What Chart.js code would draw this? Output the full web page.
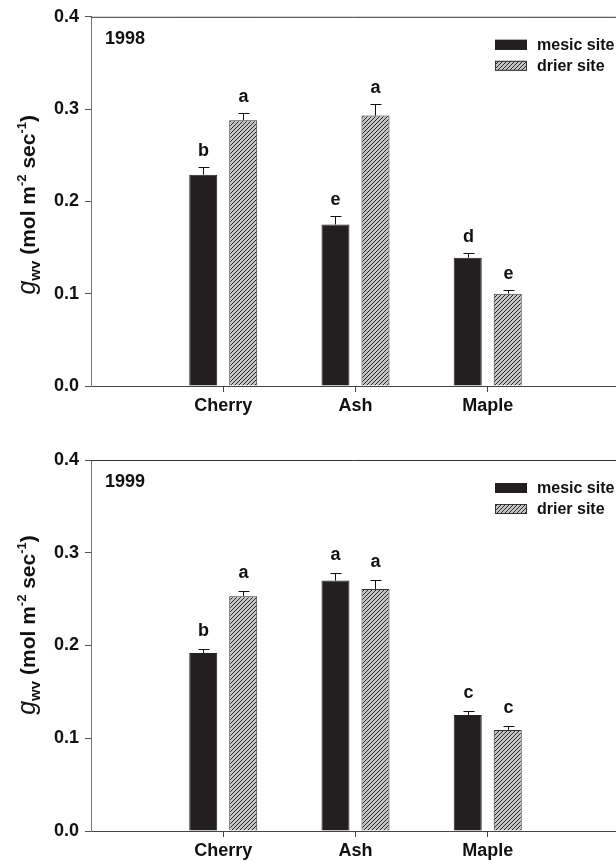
<!DOCTYPE html>
<html>
<head>
<meta charset="utf-8">
<script src="https://cdn.jsdelivr.net/npm/chart.js@4.4.1/dist/chart.umd.min.js"></script>
<style>
  html, body { margin: 0; padding: 0; background: #fff; overflow: hidden; }
  canvas { display: block; }
</style>
</head>
<body>
<canvas id="chart1998" width="616" height="430"></canvas>
<canvas id="chart1999" width="616" height="433"></canvas>
<script>
const FONT = "'Liberation Sans', Arial, sans-serif";

const species = ["Cherry", "Ash", "Maple"];
const speciesPos = [1, 2, 3];
const yTicks = [0, 0.1, 0.2, 0.3, 0.4];
const seriesNames = ["mesic site", "drier site"];

// 1998 season
const mesic1998 = [0.229, 0.175, 0.139];
const mesicErr1998 = [0.008, 0.009, 0.005];
const mesicLetters1998 = ["b", "e", "d"];
const drier1998 = [0.288, 0.293, 0.100];
const drierErr1998 = [0.008, 0.012, 0.004];
const drierLetters1998 = ["a", "a", "e"];

// 1999 season
const mesic1999 = [0.192, 0.270, 0.125];
const mesicErr1999 = [0.004, 0.008, 0.004];
const mesicLetters1999 = ["b", "a", "c"];
const drier1999 = [0.253, 0.261, 0.109];
const drierErr1999 = [0.006, 0.010, 0.004];
const drierLetters1999 = ["a", "a", "c"];

const MESIC_COLOR = "#231f20";

function makeHatch() {
  const c = document.createElement("canvas");
  c.width = 4;
  c.height = 4;
  const g = c.getContext("2d");
  g.fillStyle = "#c4c4c4";
  g.fillRect(0, 0, 4, 4);
  g.strokeStyle = "#2a2a2a";
  g.lineWidth = 1;
  g.beginPath();
  g.moveTo(-1, 5); g.lineTo(5, -1);
  g.moveTo(-1, 1); g.lineTo(1, -1);
  g.moveTo(3, 5); g.lineTo(5, 3);
  g.stroke();
  return g.createPattern(c, "repeat");
}

const hatch = makeHatch();

// error bars, letters, legend, year tag, y title and top frame line
const panelDecor = {
  id: "panelDecor",
  afterDatasetsDraw(chart, args, opts) {
    const ctx = chart.ctx;
    const y = chart.scales.y;
    const area = chart.chartArea;
    ctx.save();

    // error bars and significance letters
    chart.data.datasets.forEach((ds, di) => {
      const meta = chart.getDatasetMeta(di);
      const errs = opts.errors[di];
      const letters = opts.letters[di];
      meta.data.forEach((bar, i) => {
        const topPx = y.getPixelForValue(ds.data[i].y + errs[i]);
        const x = Math.round(bar.x) + 0.5;
        ctx.strokeStyle = "#111";
        ctx.lineWidth = 1;
        ctx.beginPath();
        ctx.moveTo(x, bar.y);
        ctx.lineTo(x, Math.round(topPx) + 0.5);
        ctx.moveTo(x - 5, Math.round(topPx) + 0.5);
        ctx.lineTo(x + 6, Math.round(topPx) + 0.5);
        ctx.stroke();

        ctx.fillStyle = "#111";
        ctx.font = "bold 18px " + FONT;
        ctx.textAlign = "center";
        ctx.textBaseline = "alphabetic";
        ctx.fillText(letters[i], x, topPx - opts.letterGap);
      });
    });

    // top frame line
    ctx.strokeStyle = "#333";
    ctx.beginPath();
    ctx.moveTo(area.left, area.top + 0.5);
    ctx.lineTo(area.right, area.top + 0.5);
    ctx.stroke();

    // year tag
    ctx.fillStyle = "#111";
    ctx.font = "bold 18px " + FONT;
    ctx.textAlign = "left";
    ctx.textBaseline = "middle";
    ctx.fillText(opts.year, area.left + 14, area.top + 22);

    // legend
    const lx = 495;
    chart.data.datasets.forEach((ds, di) => {
      const cy = area.top + 28 + di * 21;
      ctx.fillStyle = ds.backgroundColor;
      ctx.fillRect(lx, cy - 5, 32, 10);
      ctx.strokeStyle = ds.borderColor;
      ctx.strokeRect(lx + 0.5, cy - 4.5, 31, 9);
      ctx.fillStyle = "#111";
      ctx.font = "bold 16px " + FONT;
      ctx.textAlign = "left";
      ctx.textBaseline = "middle";
      ctx.fillText(ds.label, lx + 42, cy + 1);
    });

    // y axis title: g_wv (mol m^-2 sec^-1)
    const parts = [
      { t: "g", f: "italic 25px " + FONT, dy: 0 },
      { t: "wv", f: "bold 15px " + FONT, dy: 5 },
      { t: " (mol m", f: "bold 21px " + FONT, dy: 0 },
      { t: "-2", f: "bold 13px " + FONT, dy: -9 },
      { t: " sec", f: "bold 21px " + FONT, dy: 0 },
      { t: "-1", f: "bold 13px " + FONT, dy: -9 },
      { t: ")", f: "bold 21px " + FONT, dy: 0 }
    ];
    let total = 0;
    parts.forEach((p) => {
      ctx.font = p.f;
      p.w = ctx.measureText(p.t).width;
      total += p.w;
    });
    ctx.translate(27, area.top + opts.titleCenter);
    ctx.rotate(-Math.PI / 2);
    ctx.textAlign = "left";
    ctx.textBaseline = "alphabetic";
    ctx.fillStyle = "#111";
    let px = -total / 2;
    parts.forEach((p) => {
      ctx.font = p.f;
      ctx.fillText(p.t, px, 8 + p.dy);
      px += p.w;
    });

    ctx.restore();
  }
};

function buildPanel(canvasId, cfg) {
  const canvas = document.getElementById(canvasId);
  const tickFont = { family: FONT, size: 18, weight: "bold" };

  return new Chart(canvas, {
    type: "bar",
    data: {
      datasets: [
        {
          label: seriesNames[0],
          data: speciesPos.map((x, i) => ({ x, y: cfg.mesic[i] })),
          backgroundColor: MESIC_COLOR,
          borderColor: MESIC_COLOR,
          borderWidth: 1,
          categoryPercentage: 0.605,
          barPercentage: 0.7
        },
        {
          label: seriesNames[1],
          data: speciesPos.map((x, i) => ({ x, y: cfg.drier[i] })),
          backgroundColor: hatch,
          borderColor: "#333",
          borderWidth: 1,
          categoryPercentage: 0.605,
          barPercentage: 0.7
        }
      ]
    },
    options: {
      responsive: false,
      animation: false,
      devicePixelRatio: 1,
      layout: { padding: { top: cfg.padTop, left: 0, right: 0, bottom: 0 } },
      plugins: {
        legend: { display: false },
        tooltip: { enabled: false },
        panelDecor: {
          year: cfg.year,
          errors: [cfg.mesicErr, cfg.drierErr],
          letters: [cfg.mesicLetters, cfg.drierLetters],
          letterGap: cfg.letterGap,
          titleCenter: cfg.titleCenter
        }
      },
      scales: {
        x: {
          type: "linear",
          min: 0,
          max: 3.97,
          offset: false,
          afterBuildTicks(scale) {
            scale.ticks = speciesPos.map((v) => ({ value: v }));
          },
          afterFit(scale) {
            scale.height = cfg.xAxisHeight;
          },
          border: { color: "#444", width: 1 },
          grid: { offset: false, drawOnChartArea: false, tickLength: 6, color: "#444" },
          ticks: {
            autoSkip: false,
            maxRotation: 0,
            padding: 3,
            color: "#111",
            font: tickFont,
            callback(value) {
              return species[speciesPos.indexOf(value)];
            }
          }
        },
        y: {
          min: 0,
          max: 0.4,
          afterBuildTicks(scale) {
            scale.ticks = yTicks.map((v) => ({ value: v }));
          },
          afterFit(scale) {
            scale.width = 91;
          },
          border: { color: "#777", width: 1 },
          grid: { drawOnChartArea: false, tickLength: 6, color: "#555" },
          ticks: {
            padding: 6,
            color: "#111",
            font: tickFont,
            callback(value) {
              return value.toFixed(1);
            }
          }
        }
      }
    },
    plugins: [panelDecor]
  });
}

buildPanel("chart1998", {
  year: "1998",
  mesic: mesic1998, mesicErr: mesicErr1998, mesicLetters: mesicLetters1998,
  drier: drier1998, drierErr: drierErr1998, drierLetters: drierLetters1998,
  padTop: 15, xAxisHeight: 44, letterGap: 11, titleCenter: 188
});

buildPanel("chart1999", {
  year: "1999",
  mesic: mesic1999, mesicErr: mesicErr1999, mesicLetters: mesicLetters1999,
  drier: drier1999, drierErr: drierErr1999, drierLetters: drierLetters1999,
  padTop: 30, xAxisHeight: 32, letterGap: 13, titleCenter: 165
});
</script>
</body>
</html>
